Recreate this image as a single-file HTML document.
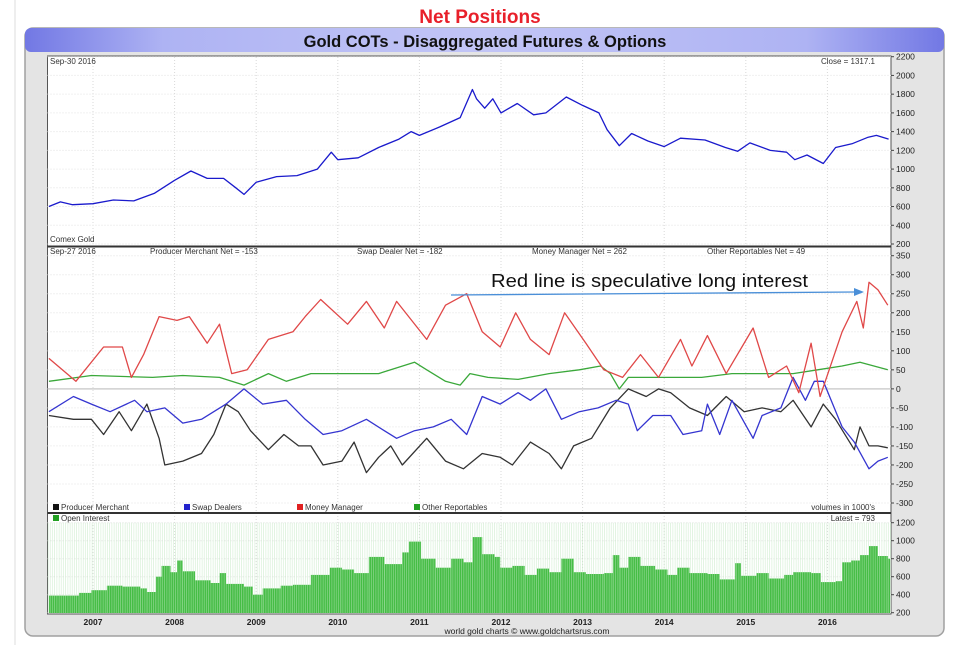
<!DOCTYPE html>
<html><head><meta charset="utf-8"><style>
html,body{margin:0;padding:0;background:#fff;}
svg{display:block;font-family:"Liberation Sans",sans-serif;}
</style></head><body>
<svg id="chart" width="956" height="645" viewBox="0 0 956 645">
<defs>
<linearGradient id="hdr" x1="0" y1="0" x2="1" y2="0">
<stop offset="0" stop-color="#7278e4"/><stop offset="0.15" stop-color="#aeb3f3"/><stop offset="0.5" stop-color="#c2c5f6"/><stop offset="0.85" stop-color="#aeb3f3"/><stop offset="1" stop-color="#7278e4"/>
</linearGradient>
<pattern id="stripes" width="2.2" height="10" patternUnits="userSpaceOnUse"><rect x="1.6" y="0" width="0.6" height="10" fill="#bfe8bf" opacity="0.7"/></pattern>
</defs>
<line x1="15" y1="0" x2="15" y2="645" stroke="#ddd"/>
<text x="480" y="23" text-anchor="middle" font-size="19" font-weight="bold" fill="#e8202a">Net Positions</text>
<rect x="25" y="28" width="919" height="608" rx="8" fill="#e4e4e4" stroke="#a0a0a0" stroke-width="1.5"/>
<rect x="25" y="28" width="919" height="24" rx="6" fill="url(#hdr)"/>
<text x="485" y="47" text-anchor="middle" font-size="16.5" font-weight="bold" fill="#111">Gold COTs - Disaggregated Futures &amp; Options</text>
<rect x="47.5" y="56" width="843.5" height="558" fill="#fff" stroke="#555"/>
<g id="grid"></g>
<g id="marks"></g>
<line x1="47.5" y1="246.5" x2="891" y2="246.5" stroke="#333" stroke-width="2"/>
<line x1="47.5" y1="513" x2="891" y2="513" stroke="#333" stroke-width="2"/>
<g font-size="8" fill="#333">
<text x="50" y="64">Sep-30  2016</text>
<text x="875" y="64" text-anchor="end">Close = 1317.1</text>
<text x="50" y="242">Comex Gold</text>
<text x="50" y="254">Sep-27  2016</text>
<text x="150" y="254">Producer Merchant Net = -153</text>
<text x="357" y="254">Swap Dealer Net = -182</text>
<text x="532" y="254">Money Manager Net = 262</text>
<text x="707" y="254">Other Reportables Net = 49</text>
<g>
<rect x="53" y="504" width="6" height="6" fill="#111"/><text x="61" y="510">Producer Merchant</text>
<rect x="184" y="504" width="6" height="6" fill="#2222cc"/><text x="192" y="510">Swap Dealers</text>
<rect x="297" y="504" width="6" height="6" fill="#e02020"/><text x="305" y="510">Money Manager</text>
<rect x="414" y="504" width="6" height="6" fill="#22a022"/><text x="422" y="510">Other Reportables</text>
</g>
<text x="875" y="510" text-anchor="end">volumes in 1000's</text>
<rect x="53" y="515" width="6" height="6" fill="#22a022"/><text x="61" y="521">Open Interest</text>
<text x="875" y="521" text-anchor="end">Latest = 793</text>
</g>
<g id="axes" font-size="8.5" fill="#222"></g>
<text x="527" y="634" text-anchor="middle" font-size="8.5" fill="#222">world gold charts © www.goldchartsrus.com</text>
<text x="491" y="287" font-size="18" fill="#111" textLength="317" lengthAdjust="spacingAndGlyphs" style="font-family:'Liberation Sans Narrow','Liberation Sans',sans-serif">Red line is speculative long interest</text>
<g>
<line x1="451" y1="295" x2="855" y2="292" stroke="#4a8fd8" stroke-width="1.3"/>
<polygon points="864,292 854,288 854,296" fill="#4a8fd8"/>
</g>
</svg>
<script>
// ---------- data ----------
const years = [2007,2008,2009,2010,2011,2012,2013,2014,2015,2016];
const priceTicks = [2200,2000,1800,1600,1400,1200,1000,800,600,400,200];
const netTicks = [350,300,250,200,150,100,50,0,-50,-100,-150,-200,-250,-300];
const oiTicks = [1200,1000,800,600,400,200];

const goldDates = [2006.46,2006.6,2006.75,2007.0,2007.25,2007.5,2007.75,2008.0,2008.2,2008.4,2008.6,2008.75,2008.85,2009.0,2009.25,2009.5,2009.75,2009.92,2010.0,2010.25,2010.5,2010.75,2010.9,2011.0,2011.25,2011.5,2011.65,2011.7,2011.8,2011.9,2012.0,2012.2,2012.4,2012.55,2012.8,2013.0,2013.2,2013.3,2013.45,2013.6,2013.8,2014.0,2014.2,2014.5,2014.75,2014.9,2015.05,2015.3,2015.5,2015.6,2015.75,2015.95,2016.1,2016.3,2016.5,2016.6,2016.75];
const goldPrice = [600,650,620,630,670,660,740,880,980,900,900,800,730,860,920,930,1000,1180,1100,1120,1230,1320,1400,1360,1450,1550,1850,1750,1650,1750,1600,1700,1580,1600,1770,1680,1600,1420,1250,1380,1300,1240,1330,1310,1230,1190,1280,1200,1180,1100,1150,1060,1230,1270,1340,1360,1320];

// net position dates as years since 2006.46
const baseYear = 2006.46;
const mmT = [0,0.33,0.67,0.90,1.01,1.16,1.35,1.57,1.72,1.94,2.09,2.24,2.43,2.69,2.99,3.14,3.33,3.66,3.89,4.11,4.26,4.63,4.86,5.12,5.31,5.53,5.72,5.90,6.13,6.32,6.58,6.80,7.03,7.25,7.47,7.74,7.88,8.07,8.30,8.63,8.82,9.04,9.19,9.34,9.45,9.72,9.90,9.98,10.05,10.16,10.28];
const moneyManager = [80,20,110,110,30,90,190,180,190,120,170,40,50,130,150,190,235,170,230,160,230,130,220,250,150,110,200,130,90,200,120,50,30,90,30,130,60,140,40,160,30,60,-10,120,-20,150,230,160,280,260,220];

const orT = [0,0.52,1.27,1.64,2.09,2.39,2.69,2.91,3.21,3.59,4.04,4.48,4.63,4.86,5.04,5.16,5.38,5.75,6.13,6.50,6.76,6.88,6.99,7.10,7.62,8.00,8.37,8.74,9.12,9.42,9.72,9.94,10.28];
const otherReportables = [20,35,30,35,30,10,40,20,40,40,40,70,50,20,10,40,30,25,40,50,60,40,0,30,30,30,40,40,40,50,60,70,50];

const sdT = [0,0.30,0.52,0.75,1.05,1.20,1.42,1.64,1.87,2.17,2.39,2.62,2.91,3.14,3.36,3.59,3.89,4.11,4.26,4.48,4.71,4.93,5.12,5.31,5.53,5.75,5.90,6.09,6.28,6.50,6.73,6.95,7.10,7.21,7.40,7.62,7.77,8.00,8.07,8.22,8.37,8.63,8.74,8.97,9.12,9.27,9.38,9.49,9.72,9.87,10.05,10.16,10.28];
const swapDealers = [-60,-20,-40,-60,-30,-60,-50,-90,-80,-40,0,-40,-30,-80,-120,-110,-80,-110,-130,-110,-100,-80,-120,-20,-40,-10,-30,0,-80,-60,-50,-30,-40,-110,-70,-70,-120,-110,-40,-120,-30,-130,-70,-50,30,-30,20,20,-100,-140,-210,-190,-180];

const pmT = [0,0.30,0.52,0.67,0.86,1.01,1.20,1.35,1.42,1.64,1.87,2.02,2.17,2.32,2.47,2.69,2.88,3.06,3.21,3.36,3.59,3.74,3.89,4.04,4.19,4.33,4.63,4.86,5.08,5.31,5.53,5.68,5.90,6.13,6.28,6.43,6.65,6.88,7.10,7.32,7.47,7.62,7.85,8.07,8.30,8.52,8.74,8.97,9.12,9.34,9.49,9.64,9.87,9.94,10.05,10.16,10.28];
const producerMerchant = [-70,-80,-80,-120,-60,-110,-40,-130,-200,-190,-170,-120,-40,-60,-110,-160,-120,-150,-150,-200,-190,-140,-220,-180,-150,-200,-130,-190,-210,-170,-180,-200,-140,-170,-210,-150,-130,-50,0,-20,0,-10,-50,-70,-20,-60,-50,-60,-30,-100,-40,-80,-160,-100,-150,-150,-155];

const oiT = [0,0.37,0.52,0.71,0.90,1.12,1.20,1.31,1.38,1.49,1.57,1.64,1.79,1.98,2.09,2.17,2.39,2.50,2.62,2.84,2.99,3.21,3.44,3.59,3.74,3.92,4.11,4.33,4.41,4.56,4.74,4.93,5.08,5.19,5.31,5.46,5.53,5.68,5.83,5.98,6.13,6.28,6.43,6.58,6.80,6.91,6.99,7.10,7.25,7.43,7.58,7.70,7.85,8.07,8.22,8.41,8.48,8.67,8.82,9.01,9.12,9.34,9.46,9.64,9.72,9.83,9.94,10.05,10.16,10.28];
const openInterest = [390,420,450,500,490,470,430,600,720,650,780,660,560,530,640,520,490,400,470,500,510,620,700,680,640,820,740,870,990,800,700,800,760,1040,850,820,700,720,620,690,650,800,650,630,640,840,700,820,720,680,620,700,640,630,570,750,610,640,580,620,650,640,540,550,760,780,840,940,830,800];

// ---------- scales ----------
const L = 47.5, R = 891;
function x(year){ return 93 + (year - 2007) * 81.6; }
function xo(off){ return x(baseYear + off); }
function yPrice(v){ return 56.7 + (2200 - v) * (187.3 / 2000); }
function yNet(v){ return 255.7 + (350 - v) * (247.3 / 650); }
function yOI(v){ return 522.7 + (1200 - v) * (90 / 1000); }

const NS = "http://www.w3.org/2000/svg";
const grid = document.getElementById('grid');
const marks = document.getElementById('marks');
const axes = document.getElementById('axes');
function mk(tag, attrs, parent){ const e = document.createElementNS(NS, tag); for (const k in attrs) e.setAttribute(k, attrs[k]); parent.appendChild(e); return e; }

years.forEach(yr => {
  const gx = x(yr);
  const g = mk('line', {x1:gx, x2:gx, y1:57, y2:613, stroke:'#d8d8d8', 'stroke-dasharray':'1,2'}, grid);
  
  
  const t = mk('text', {x:gx, y:625, 'text-anchor':'middle', 'font-weight':'bold'}, axes);
  t.textContent = yr;
  
  
});
function hTicks(ticks, yf, name){
  ticks.forEach(v => {
    const yy = yf(v);
    const g = mk('line', {x1:L, x2:R, y1:yy, y2:yy, stroke: v===0 && name==='net' ? '#cfcfcf' : '#e2e2e2', 'stroke-width': v===0 && name==='net' ? 1.5 : 1, 'stroke-dasharray': v===0 && name==='net' ? '' : '1,2'}, grid);
    
    
    const tk = mk('line', {x1:R, x2:R+3, y1:yy, y2:yy, stroke:'#444'}, axes);
    
    
    const t = mk('text', {x:R+5, y:yy+3}, axes);
    t.textContent = v;
    
    
  });
}
hTicks(priceTicks, yPrice, 'price');
hTicks(netTicks, yNet, 'net');
hTicks(oiTicks, yOI, 'oi');

for (let i = 0; i < oiT.length; i++) {
  const x0 = xo(oiT[i]);
  const x1 = i < oiT.length - 1 ? xo(oiT[i+1]) : R - 1;
  const top = yOI(openInterest[i]);
  const b = mk('rect', {x:x0, y:top, width:Math.max(1, x1 - x0), height:613 - top, fill:'#45bd45'}, marks);
  
  
}
const st = mk('rect', {x:L, y:yOI(1200), width:R-L, height:613-yOI(1200), fill:'url(#stripes)'}, marks);



function line(ts, vals, xf, yf, color, name){
  const d = ts.map((t, i) => (i ? 'L' : 'M') + xf(t).toFixed(1) + ',' + yf(vals[i]).toFixed(1)).join('');
  const p = mk('path', {d:d, fill:'none', stroke:color, 'stroke-width':1.3, 'stroke-linejoin':'round'}, marks);
  
  
}
line(goldDates, goldPrice, x, yPrice, '#1a1acc', 'gold-price-line');
line(orT, otherReportables, xo, yNet, '#3aa83a', 'other-reportables-line');
line(pmT, producerMerchant, xo, yNet, '#333333', 'producer-merchant-line');
line(sdT, swapDealers, xo, yNet, '#3535d0', 'swap-dealers-line');
line(mmT, moneyManager, xo, yNet, '#e04848', 'money-manager-line');
</script>
</body></html>
